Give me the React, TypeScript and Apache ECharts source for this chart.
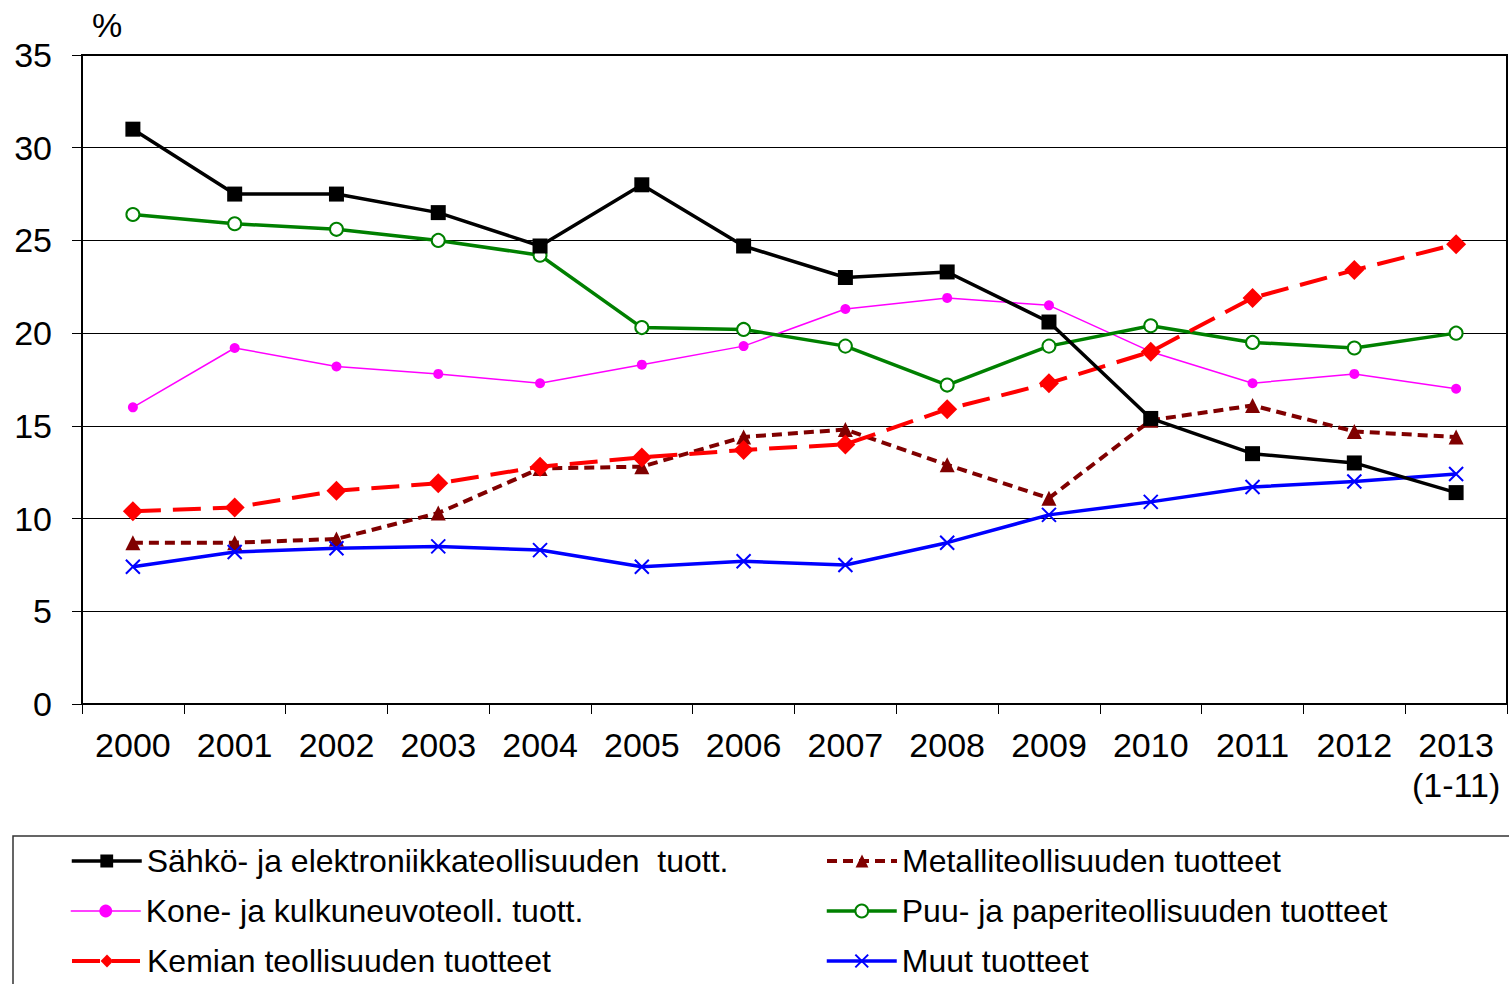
import React, { useEffect, useRef } from "react";
import * as echarts from "echarts";

const years = ["2000", "2001", "2002", "2003", "2004", "2005", "2006", "2007", "2008", "2009", "2010", "2011", "2012", "2013\n(1-11)"];
const sahko = [31.0, 27.5, 27.5, 26.5, 24.7, 28.0, 24.7, 23.0, 23.3, 20.6, 15.4, 13.5, 13.0, 11.4];
const kone = [16.0, 19.2, 18.2, 17.8, 17.3, 18.3, 19.3, 21.3, 21.9, 21.5, 19.0, 17.3, 17.8, 17.0];
const kemian = [10.4, 10.6, 11.5, 11.9, 12.8, 13.3, 13.7, 14.0, 15.9, 17.3, 19.0, 21.9, 23.4, 24.8];
const metalli = [8.7, 8.7, 8.9, 10.3, 12.7, 12.8, 14.4, 14.8, 12.9, 11.1, 15.3, 16.1, 14.7, 14.4];
const puu = [26.4, 25.9, 25.6, 25.0, 24.2, 20.3, 20.2, 19.3, 17.2, 19.3, 20.4, 19.5, 19.2, 20.0];
const muut = [7.4, 8.2, 8.4, 8.5, 8.3, 7.4, 7.7, 7.5, 8.7, 10.2, 10.9, 11.7, 12.0, 12.4];
const yTicks = { min: 0, max: 35, interval: 5 };
const names = {
  sahko: "Sähkö- ja elektroniikkateollisuuden  tuott.",
  kone: "Kone- ja kulkuneuvoteoll. tuott.",
  kemian: "Kemian teollisuuden tuotteet",
  metalli: "Metalliteollisuuden tuotteet",
  puu: "Puu- ja paperiteollisuuden tuotteet",
  muut: "Muut tuotteet",
};
const legendLayout = [
  { name: names.sahko, left: 70, row: 0 },
  { name: names.kone, left: 70, row: 1 },
  { name: names.kemian, left: 70, row: 2 },
  { name: names.metalli, left: 825, row: 0 },
  { name: names.puu, left: 825, row: 1 },
  { name: names.muut, left: 825, row: 2 },
];

const FONT = "'Liberation Sans', Arial, sans-serif";

export default function App() {
  const ref = useRef<HTMLDivElement>(null);
  useEffect(() => {
    document.body.style.margin = "0";
    document.body.style.overflow = "hidden";
    const chart = echarts.init(ref.current!, null, { renderer: "svg" });
    const legendText = { fontSize: 32, color: "#000", fontFamily: FONT, lineHeight: 40 };
    chart.setOption({
      animation: false,
      backgroundColor: "#fff",
      textStyle: { fontFamily: FONT },
      grid: { left: 82, right: 2, top: 55, bottom: 280, show: true, borderColor: "#000", borderWidth: 2, backgroundColor: "transparent" },
      xAxis: {
        type: "category",
        data: years,
        boundaryGap: true,
        axisLine: { lineStyle: { color: "#000", width: 2 } },
        axisTick: { show: true, interval: 0, length: 10, lineStyle: { color: "#000", width: 1 } },
        axisLabel: { interval: 0, fontSize: 34, color: "#000", margin: 21, lineHeight: 40, fontFamily: FONT },
      },
      yAxis: {
        type: "value",
        min: yTicks.min,
        max: yTicks.max,
        interval: yTicks.interval,
        axisLine: { show: true, lineStyle: { color: "#000", width: 2 } },
        axisTick: { show: true, length: 10, lineStyle: { color: "#000", width: 1 } },
        axisLabel: { fontSize: 34, color: "#000", margin: 30, fontFamily: FONT },
        splitLine: { show: true, lineStyle: { color: "#000", width: 1 } },
      },
      legend: legendLayout.map((l) => ({
        left: l.left,
        top: 841 + l.row * 50,
        padding: 0,
        itemWidth: 70,
        itemHeight: 16,
        itemGap: 0,
        data: [l.name],
        textStyle: legendText,
        lineStyle: { width: "inherit", type: "inherit" },
      })),
      graphic: [
        { type: "text", left: 92, top: 8, style: { text: "%", fontSize: 34, fill: "#000", fontFamily: FONT } },
        { type: "rect", shape: { x: 13, y: 836, width: 1600, height: 300 }, style: { fill: "none", stroke: "#333", lineWidth: 1.5 }, silent: true },
      ],
      series: [
        {
          name: names.sahko, type: "line", data: sahko, symbol: "rect", symbolSize: 15,
          lineStyle: { color: "#000", width: 3.5 }, itemStyle: { color: "#000" }, z: 6,
        },
        {
          name: names.kone, type: "line", data: kone, symbol: "circle", symbolSize: 10,
          lineStyle: { color: "#ff00ff", width: 1.5 }, itemStyle: { color: "#ff00ff" }, z: 3,
        },
        {
          name: names.kemian, type: "line", data: kemian, symbol: "diamond", symbolSize: 20,
          lineStyle: { color: "#ff0000", width: 4, type: [28, 12] }, itemStyle: { color: "#ff0000" }, z: 5,
        },
        {
          name: names.metalli, type: "line", data: metalli, symbol: "triangle", symbolSize: 15,
          lineStyle: { color: "#800000", width: 4, type: [10, 6] }, itemStyle: { color: "#800000" }, z: 4,
        },
        {
          name: names.puu, type: "line", data: puu, symbol: "emptyCircle", symbolSize: 13,
          lineStyle: { color: "#008000", width: 3.5 }, itemStyle: { color: "#008000", borderColor: "#008000", borderWidth: 1.5 }, z: 4,
        },
        {
          name: names.muut, type: "line", data: muut, symbol: "path://M0,0L10,10M10,0L0,10", symbolSize: 14,
          lineStyle: { color: "#0000ff", width: 3.5 }, itemStyle: { color: "#0000ff", borderColor: "#0000ff", borderWidth: 2 }, z: 4,
        },
      ],
    });
    return () => chart.dispose();
  }, []);
  return <div ref={ref} style={{ width: 1509, height: 984 }} />;
}
